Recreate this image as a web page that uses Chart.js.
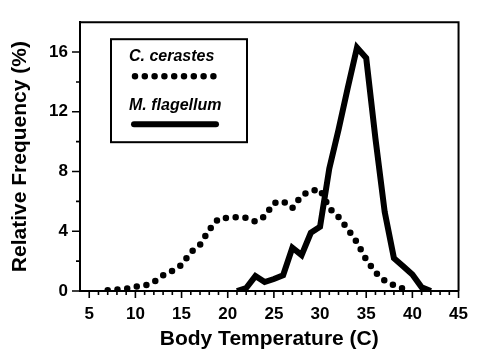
<!DOCTYPE html>
<html><head><meta charset="utf-8">
<script src="https://cdn.jsdelivr.net/npm/chart.js@4/dist/chart.umd.min.js"></script>
<style>html,body{margin:0;padding:0;background:#fff}#wrap{width:481px;height:353px;position:relative}</style>
</head><body><div id="wrap"><canvas id="c"></canvas></div>
<script>
// ---- data ----
const cerastesTemp = [7,8,9,10,11,12,13,14,15,16,17,18,19,20,21,22,23,24,25,26,27,28,29,30,31,32,33,34,35,36,37,38,39];
const cerastesFreq = [0.05,0.1,0.15,0.3,0.35,0.6,1.05,1.35,1.75,2.6,3.1,4.1,4.85,4.9,4.95,4.9,4.65,5.0,5.9,6.0,5.55,6.4,6.7,6.8,5.55,4.95,4.15,3.25,2.1,1.25,0.7,0.38,0.15];
const flagellumTemp = [21,22,23,24,25,26,27,28,29,30,31,32,33,34,35,36,37,38,39,40,41,42];
const flagellumFreq = [0,0.2,1.0,0.6,0.8,1.05,2.9,2.4,3.9,4.3,8.2,10.8,13.6,16.3,15.6,10.2,5.3,2.2,1.65,1.1,0.25,0];
const seriesNames = ['C. cerastes','M. flagellum'];
const xMajorTicks = [5,10,15,20,25,30,35,40,45];
const xMinorTicks = [6,7,8,9,11,12,13,14,16,17,18,19,21,22,23,24,26,27,28,29,31,32,33,34,36,37,38,39,41,42,43,44];
const yMajorTicks = [0,4,8,12,16];
const yMinorTicks = [2,6,10,14];
const xTitle = 'Body Temperature (C)';
const yTitle = 'Relative Frequency (%)';

const toPts = (xs, ys) => xs.map((x, i) => ({x, y: ys[i]}));
const FONT = "'Liberation Sans', Arial, Helvetica, sans-serif";

const frameAndTicks = {
  id: 'frameAndTicks',
  afterDraw(chart) {
    const {ctx, chartArea: a, scales: {x, y}} = chart;
    ctx.save();
    ctx.strokeStyle = '#000';
    ctx.lineWidth = 2;
    ctx.beginPath();
    ctx.moveTo(a.left, a.top); ctx.lineTo(a.right, a.top); ctx.lineTo(a.right, a.bottom);
    ctx.stroke();
    ctx.lineWidth = 1.6;
    ctx.beginPath();
    xMajorTicks.forEach(v => { const p = x.getPixelForValue(v); ctx.moveTo(p, a.bottom); ctx.lineTo(p, a.bottom + 7); });
    xMinorTicks.forEach(v => { const p = x.getPixelForValue(v); ctx.moveTo(p, a.bottom); ctx.lineTo(p, a.bottom + 4); });
    yMajorTicks.forEach(v => { const p = y.getPixelForValue(v); ctx.moveTo(a.left, p); ctx.lineTo(a.left - 8, p); });
    yMinorTicks.forEach(v => { const p = y.getPixelForValue(v); ctx.moveTo(a.left, p); ctx.lineTo(a.left - 4, p); });
    ctx.stroke();
    ctx.restore();
  }
};

const boxLegend = {
  id: 'boxLegend',
  afterDraw(chart) {
    const {ctx, chartArea: a} = chart;
    const L = a.left + 31, T = a.top + 17, W = 136, H = 103;
    ctx.save();
    ctx.strokeStyle = '#000';
    ctx.lineWidth = 2;
    ctx.strokeRect(L, T, W, H);
    ctx.fillStyle = '#000';
    ctx.font = "italic bold 16px " + FONT;
    ctx.textBaseline = 'alphabetic';
    ctx.textAlign = 'left';
    ctx.fillText(seriesNames[0], L + 18, T + 22);
    ctx.fillText(seriesNames[1], L + 18, T + 71);
    const ds = chart.data.datasets;
    ctx.lineWidth = ds[0].borderWidth;
    ctx.lineCap = 'round';
    ctx.setLineDash(ds[0].borderDash);
    ctx.beginPath(); ctx.moveTo(L + 24, T + 37); ctx.lineTo(L + 106, T + 37); ctx.stroke();
    ctx.setLineDash([]);
    ctx.lineCap = 'round';
    ctx.lineWidth = ds[1].borderWidth;
    ctx.beginPath(); ctx.moveTo(L + 23, T + 85); ctx.lineTo(L + 105, T + 85); ctx.stroke();
    ctx.restore();
  }
};

new Chart(document.getElementById('c'), {
  type: 'line',
  data: {
    datasets: [
      { label: seriesNames[0], data: toPts(cerastesTemp, cerastesFreq), borderColor: '#000', borderWidth: 6.5,
        borderDash: [0, 9.8], borderCapStyle: 'round', pointRadius: 0, tension: 0, fill: false },
      { label: seriesNames[1], data: toPts(flagellumTemp, flagellumFreq), borderColor: '#000', borderWidth: 6,
        borderJoinStyle: 'miter', borderCapStyle: 'butt', pointRadius: 0, tension: 0, fill: false }
    ]
  },
  options: {
    responsive: true, maintainAspectRatio: false, animation: false,
    layout: { padding: { top: 8, right: 14, left: 0, bottom: 0 } },
    plugins: { legend: { display: false }, tooltip: { enabled: false } },
    scales: {
      x: {
        type: 'linear', min: 4, max: 45,
        afterBuildTicks: s => { s.ticks = xMajorTicks.map(v => ({value: v})); },
        afterFit: s => { s.height = 62; },
        grid: { display: false, drawTicks: false },
        border: { display: true, color: '#000', width: 2 },
        ticks: { color: '#000', padding: 13, autoSkip: false, maxRotation: 0, font: { family: FONT, size: 17, weight: 'bold' } },
        title: { display: true, text: xTitle, color: '#000', padding: { top: 0, bottom: 1 }, font: { family: FONT, size: 21, weight: 'bold' } }
      },
      y: {
        min: 0, max: 18,
        afterBuildTicks: s => { s.ticks = yMajorTicks.map(v => ({value: v})); },
        afterFit: s => { s.width = 80; },
        grid: { display: false, drawTicks: false },
        border: { display: true, color: '#000', width: 2 },
        ticks: { color: '#000', padding: 12, autoSkip: false, font: { family: FONT, size: 17, weight: 'bold' } },
        title: { display: true, text: yTitle, color: '#000', padding: { top: 8, bottom: 0 }, font: { family: FONT, size: 21, weight: 'bold' } }
      }
    }
  },
  plugins: [frameAndTicks, boxLegend]
});
</script></body></html>
